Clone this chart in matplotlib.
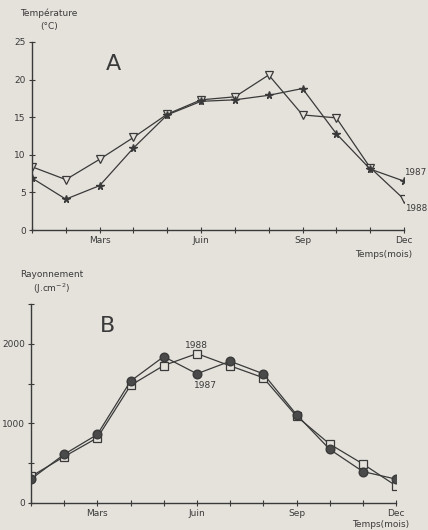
# Monthly temperature (A) and radiation (B), 1987 vs 1988.
import matplotlib
matplotlib.use('Agg')
from matplotlib import pyplot as plt

months = list(range(1, 13))
month_labels = ['', '', 'Mars', '', '', 'Juin', '', '', 'Sep', '', '', 'Dec']

# Temperature (°C)
temp_1987 = [6.9, 4.1, 5.9, 10.9, 15.3, 17.1, 17.3, 17.9, 18.8, 12.8, 8.1, 6.5]
temp_1988 = [8.4, 6.7, 9.4, 12.3, 15.4, 17.3, 17.7, 20.6, 15.3, 14.9, 8.3, 4.1]

# Radiation (J.cm-2)
ray_1987 = [300, 612, 862, 1533, 1841, 1625, 1783, 1625, 1112, 675, 395, 300]
ray_1988 = [333, 583, 820, 1479, 1729, 1879, 1725, 1575, 1091, 741, 491, 216]

bg = '#e5e2dc'
ink = '#3a3a3a'
plt.rcParams['font.family'] = ['DejaVu Sans']

fig = plt.figure(figsize=(4.28, 5.30), dpi=100, facecolor=bg)
ax_a = fig.add_axes([0.0748, 0.566, 0.869, 0.355])
ax_b = fig.add_axes([0.0724, 0.051, 0.853, 0.375])

for ax in (ax_a, ax_b):
    ax.set_facecolor(bg)
    for side in ('top', 'right'):
        ax.spines[side].set_visible(False)
    for side in ('left', 'bottom'):
        ax.spines[side].set_color(ink)
        ax.spines[side].set_linewidth(1.0)
    ax.set_xlim(1, 12)
    ax.set_xticks(months)
    ax.set_xticklabels(month_labels)
    ax.tick_params(axis='both', direction='inout', length=5, width=0.8,
                   colors=ink, labelsize=6.5, pad=2)

# Panel A
ax_a.plot(months, temp_1988, color=ink, lw=0.9, marker='v', ms=5.5,
          mfc=bg, mec=ink, mew=0.9)
ax_a.plot(months, temp_1987, color=ink, lw=0.9, marker='*', ms=5.5,
          mfc=ink, mec=ink)
ax_a.set_ylim(0, 25)
ax_a.set_yticks([0, 5, 10, 15, 20, 25])
ax_a.text(3.4, 22.0, 'A', fontsize=16, color=ink, ha='center', va='center')
ax_a.text(12.0, 7.6, '1987', fontsize=6.3, color=ink, ha='left', va='center')
ax_a.text(12.02, 2.9, '1988', fontsize=6.3, color=ink, ha='left', va='center')
ax_a.text(12.25, -3.2, 'Temps(mois)', fontsize=6.5, color=ink,
          ha='right', va='center')
fig.text(0.115, 0.975, 'Température', fontsize=6.5, color=ink,
         ha='center', va='center')
fig.text(0.115, 0.950, '(°C)', fontsize=6.5, color=ink,
         ha='center', va='center')

# Panel B
ax_b.plot(months, ray_1988, color=ink, lw=0.9, marker='s', ms=5.5,
          mfc=bg, mec=ink, mew=0.9)
ax_b.plot(months, ray_1987, color=ink, lw=0.9, marker='o', ms=6.2,
          mfc='#4a4a4a', mec=ink)
ax_b.set_ylim(0, 2500)
ax_b.set_yticks([0, 500, 1000, 1500, 2000, 2500])
ax_b.set_yticklabels(['0', '', '1000', '', '2000', ''])
ax_b.text(3.3, 2230, 'B', fontsize=16, color=ink, ha='center', va='center')
ax_b.text(6.0, 1980, '1988', fontsize=6.5, color=ink, ha='center', va='center')
ax_b.text(6.25, 1480, '1987', fontsize=6.5, color=ink, ha='center', va='center')
ax_b.text(12.4, -270, 'Temps(mois)', fontsize=6.5, color=ink,
          ha='right', va='center')
fig.text(0.12, 0.482, 'Rayonnement', fontsize=6.5, color=ink,
         ha='center', va='center')
fig.text(0.12, 0.456, '(J.cm$^{-2}$)', fontsize=6.5, color=ink,
         ha='center', va='center')

fig.savefig('out.png', dpi=100, facecolor=bg)
